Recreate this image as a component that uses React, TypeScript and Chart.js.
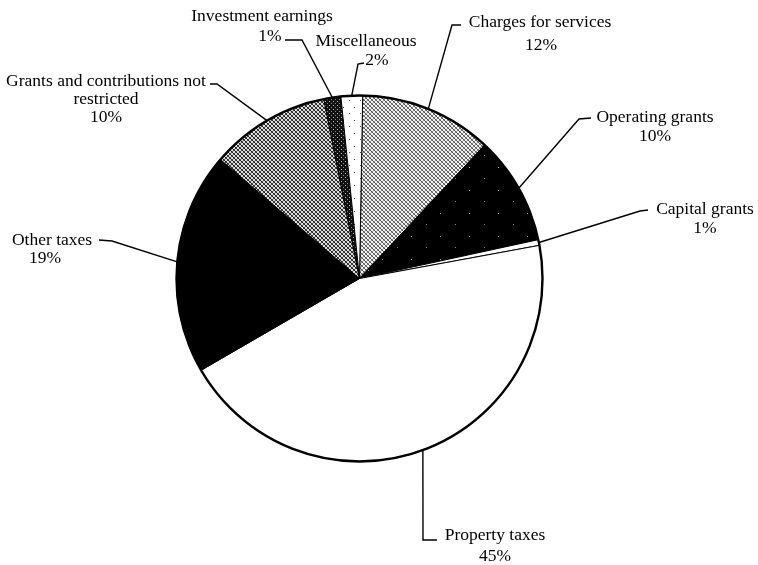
import React, { useEffect, useRef } from "react";
import { Chart, registerables } from "chart.js";

Chart.register(...registerables);

// ---- data ----
const categories = [
  "Charges for services",
  "Operating grants",
  "Capital grants",
  "Property taxes",
  "Other taxes",
  "Grants and contributions not restricted",
  "Investment earnings",
  "Miscellaneous",
];
const shares = [11.7, 9.6, 0.5, 44.5, 19.6, 10.6, 1.5, 1.9];
const pctLabels = ["12%", "10%", "1%", "45%", "19%", "10%", "1%", "2%"];
const labelLines = [
  ["Charges for services"],
  ["Operating grants"],
  ["Capital grants"],
  ["Property taxes"],
  ["Other taxes"],
  ["Grants and contributions not", "restricted"],
  ["Investment earnings"],
  ["Miscellaneous"],
];

// ---- layout of label blocks (positions, not data) ----
type Lay = { lines: { x: number; y: number }[]; elbow: [number, number]; end: [number, number] };
const layout: Lay[] = [
  { lines: [{ x: 540, y: 22 }, { x: 541, y: 45 }], elbow: [452, 25], end: [461, 25] },
  { lines: [{ x: 655, y: 117 }, { x: 655, y: 136 }], elbow: [579, 119], end: [591, 118] },
  { lines: [{ x: 705, y: 209 }, { x: 705, y: 228 }], elbow: [640, 211], end: [648, 210] },
  { lines: [{ x: 495, y: 535 }, { x: 495, y: 556 }], elbow: [423, 540], end: [437, 540] },
  { lines: [{ x: 52, y: 240 }, { x: 45, y: 258 }], elbow: [112, 241], end: [99, 240] },
  { lines: [{ x: 106, y: 81 }, { x: 106, y: 99 }, { x: 106, y: 117 }], elbow: [217, 84], end: [210, 84] },
  { lines: [{ x: 262, y: 16 }, { x: 270, y: 36 }], elbow: [302, 40], end: [285, 40] },
  { lines: [{ x: 366, y: 41 }, { x: 377, y: 60 }], elbow: [358, 64], end: [364, 63] },
];

function makePattern(w: number, h: number, bg: string, pix: [number, number, string][]) {
  const c = document.createElement("canvas");
  c.width = w;
  c.height = h;
  const g = c.getContext("2d")!;
  g.fillStyle = bg;
  g.fillRect(0, 0, w, h);
  for (const [x, y, col] of pix) {
    g.fillStyle = col;
    g.fillRect(x, y, 1, 1);
  }
  return g.createPattern(c, "repeat")!;
}

function crossPix(n: number, a: string, b: string): [number, number, string][] {
  const p: [number, number, string][] = [];
  for (let i = 0; i < n; i++) {
    p.push([i, i, a]);
    p.push([n - 1 - i, i, b]);
  }
  return p;
}

const labelPlugin = {
  id: "leaderLabels",
  afterDatasetsDraw(chart: any) {
    const ctx = chart.ctx as CanvasRenderingContext2D;
    const arcs = chart.getDatasetMeta(0).data;
    if (!arcs.length) return;
    const cx = arcs[0].x;
    const cy = arcs[0].y;
    const r = arcs[0].outerRadius;
    ctx.save();
    // thick outer rim
    ctx.beginPath();
    ctx.arc(cx, cy, r, 0, Math.PI * 2);
    ctx.lineWidth = 2.4;
    ctx.strokeStyle = "#000";
    ctx.stroke();

    ctx.font = '17.5px "Liberation Serif", "Times New Roman", serif';
    ctx.fillStyle = "#000";
    ctx.textAlign = "center";
    ctx.textBaseline = "middle";
    arcs.forEach((arc: any, i: number) => {
      const lay = layout[i];
      const mid = (arc.startAngle + arc.endAngle) / 2;
      const px = arc.x + Math.cos(mid) * arc.outerRadius;
      const py = arc.y + Math.sin(mid) * arc.outerRadius;
      ctx.beginPath();
      ctx.moveTo(px, py);
      ctx.lineTo(lay.elbow[0], lay.elbow[1]);
      ctx.lineTo(lay.end[0], lay.end[1]);
      ctx.lineWidth = 1.4;
      ctx.strokeStyle = "#000";
      ctx.stroke();
      const texts = [...labelLines[i], pctLabels[i]];
      texts.forEach((t, k) => {
        const pos = lay.lines[k];
        ctx.fillText(t, pos.x, pos.y);
      });
    });
    ctx.restore();
  },
};

export default function App() {
  const ref = useRef<HTMLCanvasElement>(null);
  useEffect(() => {
    const canvas = ref.current!;
    const charges = makePattern(4, 4, "#f4f4f4", crossPix(4, "#555555", "#8a8a8a"));
    const grants = makePattern(4, 4, "#dddddd", [...crossPix(4, "#222222", "#4a4a4a")]);
    const operating = makePattern(29, 23, "#000000", [
      [5, 6, "#b0b0b0"],
      [20, 17, "#8a8a8a"],
    ]);
    const invest = makePattern(4, 4, "#111111", [
      [1, 1, "#bbbbbb"],
      [3, 3, "#888888"],
    ]);
    const misc = makePattern(11, 13, "#ffffff", [
      [2, 3, "#333333"],
      [8, 9, "#555555"],
    ]);
    const colors = [charges, operating, "#ffffff", "#ffffff", "#000000", grants, invest, misc];

    const chart = new Chart(canvas, {
      type: "pie",
      data: {
        labels: categories,
        datasets: [
          {
            data: shares,
            backgroundColor: colors as any,
            borderColor: "#000000",
            borderWidth: 1,
            hoverBorderWidth: 1,
          },
        ],
      },
      options: {
        responsive: false,
        animation: false,
        devicePixelRatio: 1,
        rotation: 1,
        layout: { padding: { left: 176, right: 215, top: 95, bottom: 103 } },
        plugins: {
          legend: { display: false },
          tooltip: { enabled: false },
        },
        events: [],
      },
      plugins: [labelPlugin],
    });
    return () => chart.destroy();
  }, []);

  return (
    <div
      style={{
        position: "fixed",
        left: 0,
        top: 0,
        width: 758,
        height: 565,
        background: "#ffffff",
      }}
    >
      <canvas ref={ref} width={758} height={565} />
    </div>
  );
}
